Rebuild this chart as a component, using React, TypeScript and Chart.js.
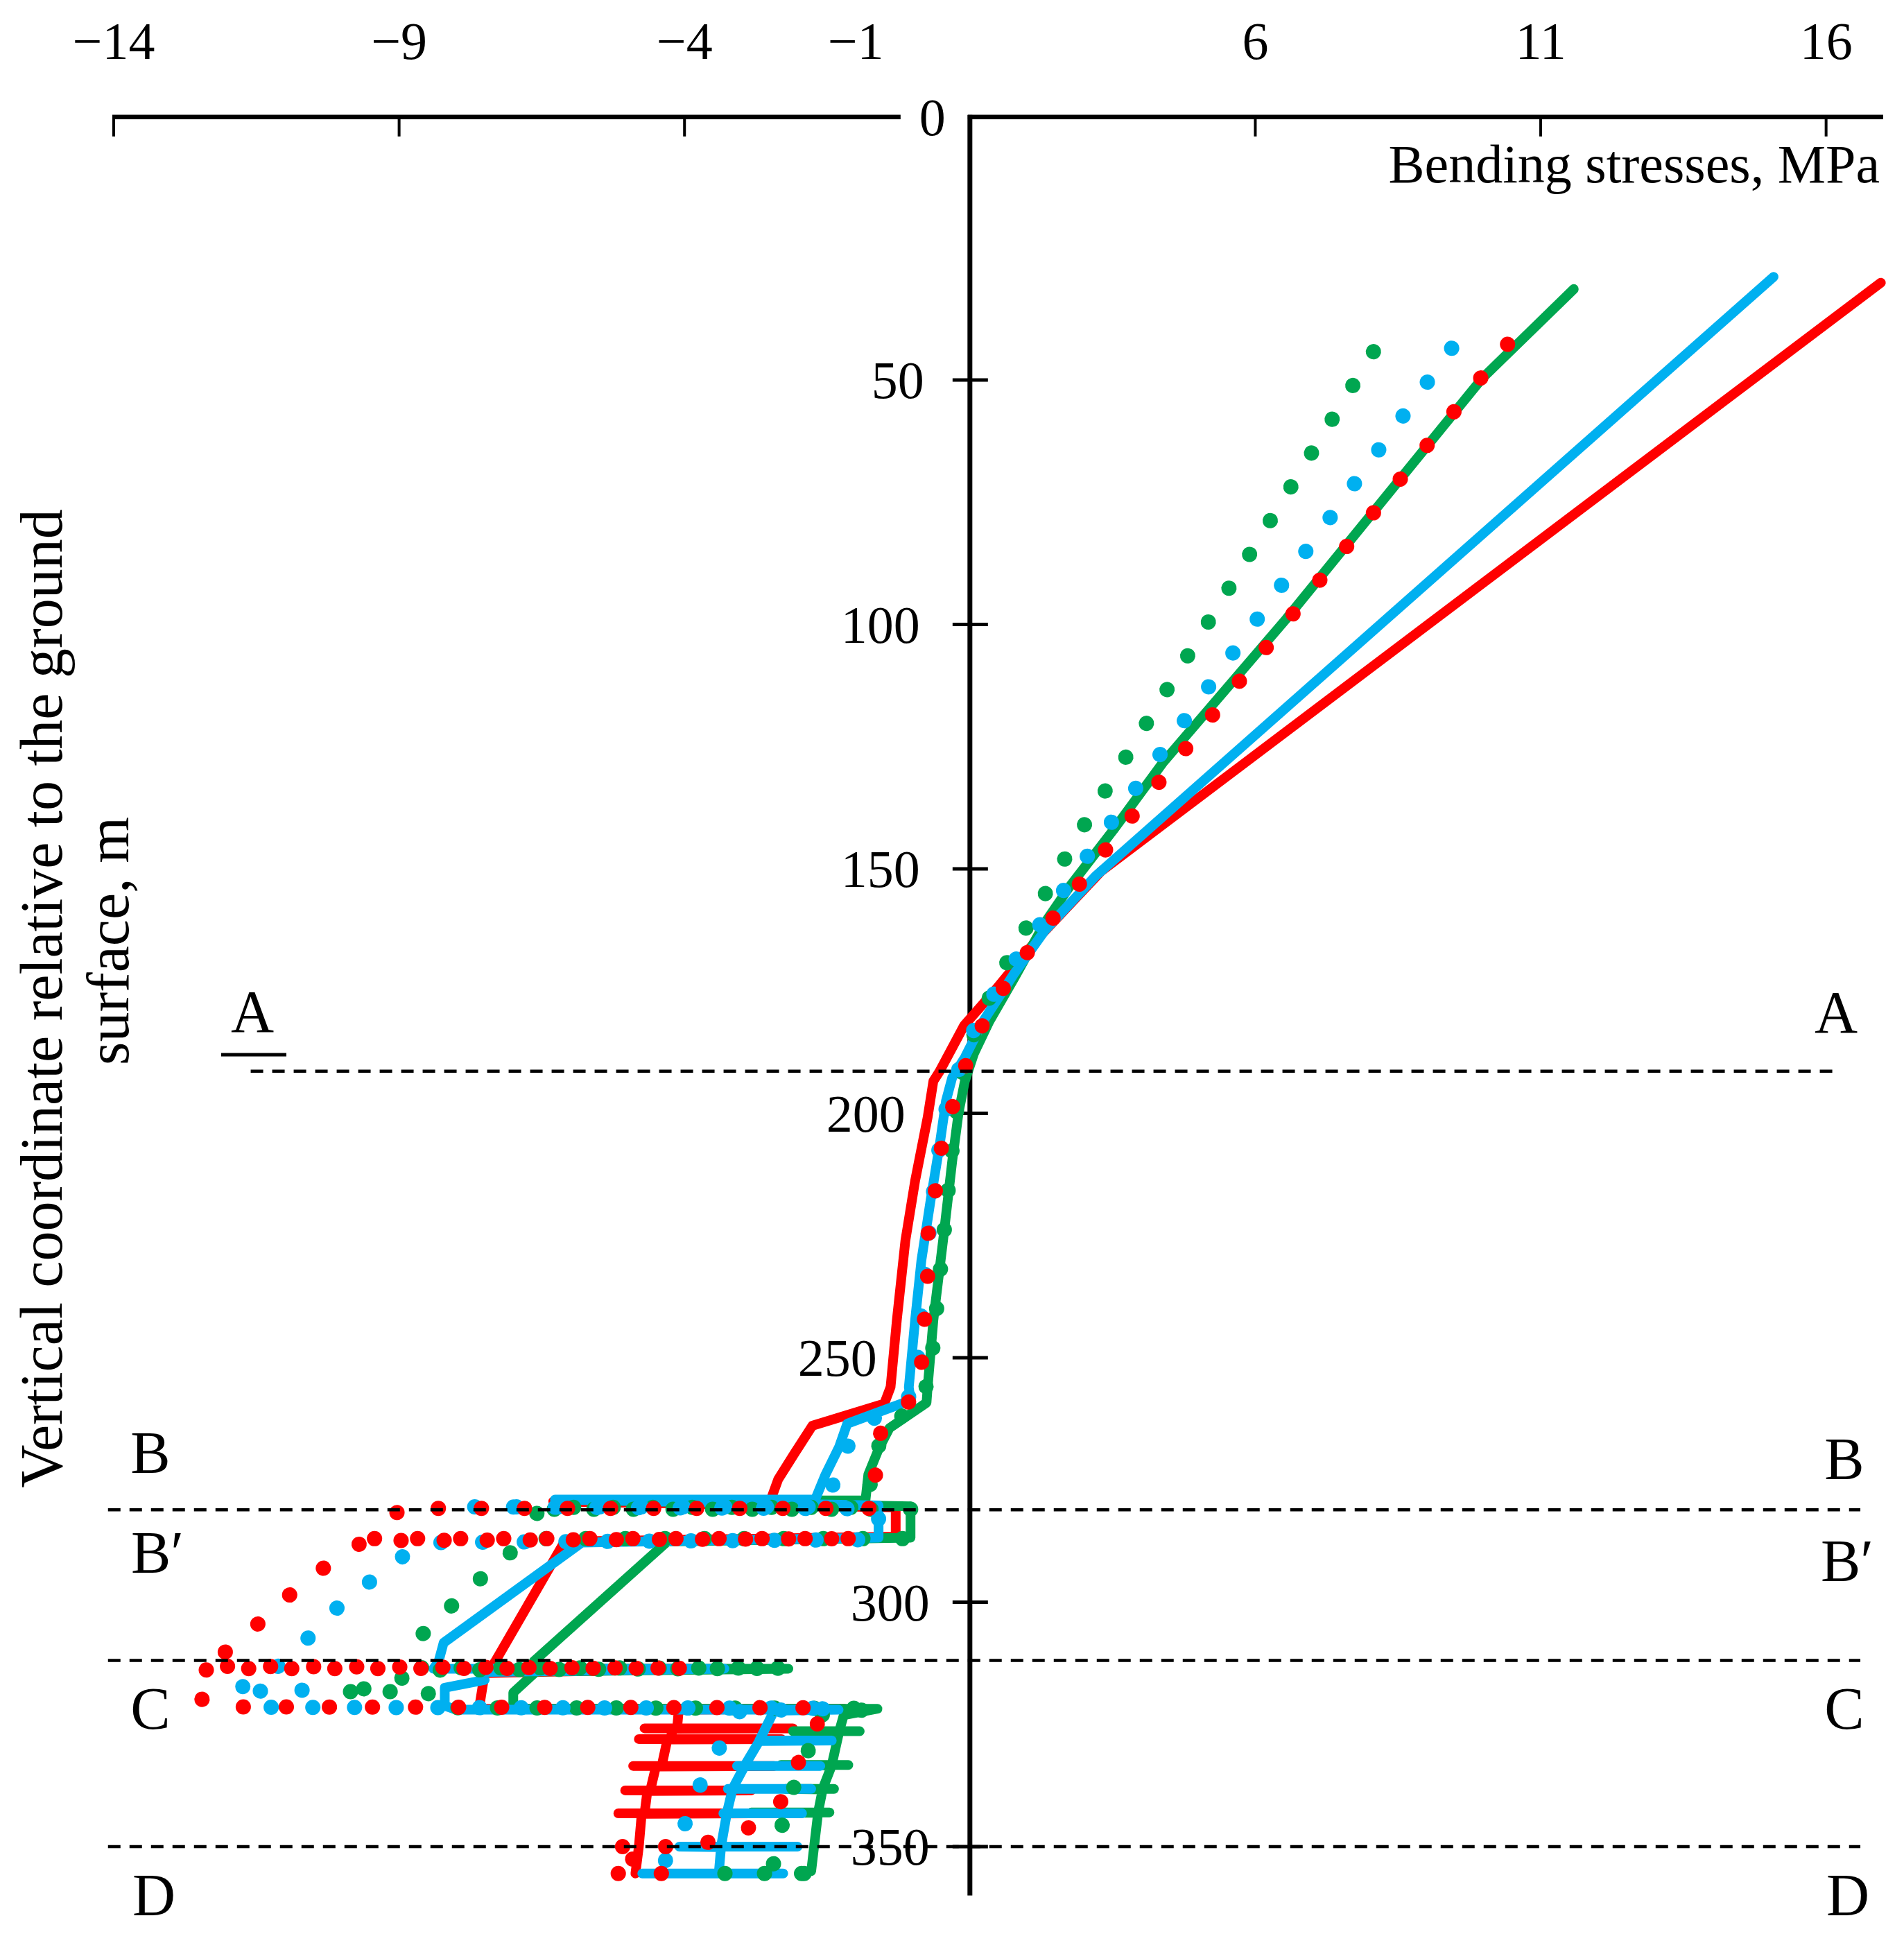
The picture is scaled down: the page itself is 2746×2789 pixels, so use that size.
import React, { useEffect, useRef } from 'react'
import { Chart, registerables } from 'chart.js'

Chart.register(...registerables)

const W = 2746
const H = 2789

// axis layout (stress axis crosses the depth axis at 1 on the label scale)
const AXIS_CROSS = 1
const X_TICK_LABELS = [-14, -9, -4, -1, 6, 11, 16]
const X_TICK_MARKS = [-14, -9, -4, 6, 11, 16]
const Y_TICKS = [50, 100, 150, 200, 250, 300, 350]

// zone boundaries A, B, C, D (depth, m)
const ZONE_A = 191.4
const ZONE_B = 281.1
const ZONE_C = 311.9
const ZONE_D = 350.0

type Pt = [number, number] // [stress, depth]

const redSolid: Pt[] = [
  [16.96, 30.1], [3.3, 150.5], [2.2, 164.1], [1.45, 174.7], [0.9, 182.0], [0.47, 191.4],
  [0.36, 193.4], [0.26, 200.8], [0.04, 213.8], [-0.13, 226.0], [-0.28, 242.3], [-0.39, 256.0],
  [-0.5, 259.4], [-1.76, 263.9], [-2.08, 269.7], [-2.36, 274.9], [-2.5, 279.4],
  [-6.3, 279.4], [-0.3, 280.6], [-0.3, 286.6], [-6.1, 287.6], [-7.3, 311.8],
  [-7.4, 313.6], [-3.9, 313.6], [-7.5, 314.5], [-7.6, 321.8], [-1.2, 321.8],
  [-4.1, 322.0], [-4.13, 325.8], [-4.7, 325.8], [-2.1, 325.8], [-4.2, 325.9],
  [-4.25, 328.0], [-4.8, 328.0], [-2.3, 328.0], [-4.3, 328.1],
  [-4.4, 333.5], [-4.9, 333.5], [-2.43, 333.5], [-4.5, 333.6],
  [-4.6, 338.5], [-5.04, 338.5], [-2.83, 338.5], [-4.65, 338.6],
  [-4.7, 343.2], [-5.16, 343.2], [-2.83, 343.2], [-4.75, 343.3], [-4.8, 350.0], [-4.86, 355.5],
]

const blueSolid: Pt[] = [
  [15.08, 28.9], [3.2, 151.5], [2.32, 162.5], [1.77, 171.5], [1.23, 181.2],
  [0.91, 188.6], [0.69, 192.7], [0.58, 197.5], [0.47, 206.5], [0.31, 217.9], [0.15, 230.1],
  [0.04, 242.3], [-0.07, 256.0], [-0.04, 258.7], [-1.15, 263.5], [-1.29, 268.2], [-1.53, 273.9],
  [-1.71, 279.0], [-6.27, 279.0], [-0.6, 280.2], [-0.6, 286.8], [-5.8, 287.8], [-8.22, 308.3],
  [-8.31, 312.2], [-8.4, 313.6], [-3.3, 313.6], [-7.6, 314.3], [-7.5, 315.9], [-8.2, 317.5],
  [-8.2, 321.2], [-8.0, 322.0], [-1.3, 322.0],
  [-2.43, 322.2], [-2.69, 328.3], [-1.42, 328.3], [-2.69, 328.4],
  [-2.95, 333.5], [-1.62, 333.5], [-3.08, 333.5], [-2.95, 333.6],
  [-3.16, 338.2], [-1.78, 338.2], [-3.24, 338.2], [-3.16, 338.3],
  [-3.26, 343.2], [-1.94, 343.2], [-3.32, 343.2], [-3.26, 343.3],
  [-3.36, 350.0], [-2.02, 350.0], [-4.09, 350.0], [-3.36, 350.1],
  [-3.4, 355.5], [-2.27, 355.5], [-4.74, 355.5],
]

const greenSolid: Pt[] = [
  [11.58, 31.4], [9.98, 49.6], [6.54, 98.9], [4.38, 128.3], [3.51, 142.1], [2.75, 153.6],
  [2.32, 160.9], [1.78, 172.3], [1.34, 181.2], [1.07, 187.8], [0.91, 193.5], [0.8, 200.0],
  [0.69, 209.8], [0.53, 226.0], [0.36, 242.3], [0.26, 256.0], [0.24, 259.2], [-0.41, 264.4],
  [-0.6, 268.7], [-0.78, 273.9], [-0.83, 279.2], [-5.5, 279.2], [-0.04, 280.4], [-0.04, 286.8],
  [-4.3, 287.6], [-6.64, 312.1], [-6.7, 313.6], [-2.18, 313.6], [-6.6, 314.2], [-7.0, 318.5],
  [-7.0, 321.8], [-0.62, 321.8],
  [-1.21, 323.1], [-1.29, 326.4], [-0.93, 326.4], [-2.1, 326.4], [-1.29, 326.5],
  [-1.42, 333.3], [-1.13, 333.3], [-2.31, 333.3], [-1.42, 333.4],
  [-1.58, 338.2], [-1.38, 338.2], [-2.23, 338.2], [-1.58, 338.3],
  [-1.66, 343.0], [-1.46, 343.0], [-2.83, 343.0], [-1.66, 343.1], [-1.78, 355.0],
]

const redDotted: Pt[] = [
  [10.42, 42.7], [3.52, 143.9], [3.08, 150.7], [2.59, 158.0], [2.11, 165.4], [1.67, 172.7],
  [1.23, 181.7], [0.96, 189.0], [0.64, 200.8], [0.47, 208.5], [0.39, 216.3], [0.26, 225.2],
  [0.26, 234.6], [0.2, 242.8], [0.15, 251.7], [0.01, 258.2], [-0.5, 263.3], [-0.69, 269.7],
  [-0.6, 280.8], [-8.96, 280.8], [-9.52, 287.0], [-0.9, 287.0], [-9.6, 287.4],
  [-10.1, 291.1], [-10.66, 295.9], [-11.2, 301.4], [-11.73, 307.3], [-12.36, 313.1],
  [-3.9, 313.5], [-12.36, 313.6], [-12.68, 318.5], [-12.2, 321.4], [-1.5, 321.6],
  [-1.78, 326.9], [-2.3, 340.6], [-2.6, 345.0], [-3.8, 350.0], [-5.34, 350.0],
  [-4.9, 352.5], [-5.38, 355.5], [-3.8, 355.5],
]

const blueDotted: Pt[] = [
  [9.44, 43.5], [3.28, 143.7], [2.86, 150.7], [2.43, 158.0], [1.95, 166.0], [1.5, 174.0],
  [1.1, 182.0], [0.85, 189.5], [0.6, 198.0], [0.45, 208.0], [0.32, 220.0], [0.22, 232.0],
  [0.12, 244.0], [0.05, 256.0], [-0.2, 260.0], [-1.0, 264.0], [-1.2, 270.0], [-1.4, 276.0],
  [-1.5, 280.5], [-7.7, 280.5], [-0.6, 280.9], [-0.6, 287.2], [-8.41, 287.8],
  [-9.01, 291.1], [-9.52, 295.9], [-10.08, 301.1], [-10.59, 307.3], [-11.01, 311.1],
  [-11.2, 314.5], [-11.94, 318.3], [-10.7, 318.0], [-11.3, 321.5], [-1.3, 321.7],
  [-3.03, 322.3], [-3.32, 328.3], [-3.56, 333.5], [-3.76, 338.2], [-3.89, 343.2],
  [-4.21, 350.0], [-4.45, 355.5],
]

const greenDotted: Pt[] = [
  [8.07, 44.2], [2.87, 143.6], [2.53, 150.7], [2.18, 158.0], [1.84, 165.1], [1.5, 172.3],
  [1.2, 180.0], [0.95, 187.5], [0.8, 196.0], [0.7, 206.0], [0.6, 218.0], [0.5, 230.0],
  [0.4, 242.0], [0.3, 254.0], [0.1, 259.5], [-0.5, 264.5], [-0.65, 270.0], [-0.75, 276.0],
  [-0.8, 280.6], [-6.5, 280.6], [-6.7, 283.5], [-6.5, 281.0], [-0.02, 281.0], [-0.02, 287.0],
  [-6.6, 287.0], [-7.1, 290.2], [-7.66, 296.1], [-8.13, 301.3], [-8.62, 306.9],
  [-8.68, 313.4], [-2.2, 313.5], [-8.5, 313.9], [-9.52, 317.6], [-10.08, 318.3], [-8.5, 318.3],
  [-8.4, 321.6], [-0.62, 321.7],
  [-1.62, 323.1], [-1.74, 326.4], [-1.9, 333.3], [-2.1, 338.2], [-2.23, 343.0], [-2.39, 350.0],
  [-2.47, 355.5], [-1.58, 355.5], [-3.44, 355.5],
]

const zoneLines: Pt[][] = [
  [[-11.6, ZONE_A], [16.17, ZONE_A]],
  [[-14.1, ZONE_B], [16.6, ZONE_B]],
  [[-14.1, ZONE_C], [16.6, ZONE_C]],
  [[-14.1, ZONE_D], [16.6, ZONE_D]],
]

const RED = '#FF0000'
const BLUE = '#00B0F0'
const GREEN = '#00A650'
const FONT = '"Liberation Serif", "Times New Roman", serif'

const toXY = (pts: Pt[]) => pts.map(([x, y]) => ({ x, y }))

const solid = (data: Pt[], color: string, order: number) => ({
  data: toXY(data),
  showLine: true,
  borderColor: color,
  borderWidth: 14,
  borderCapStyle: 'round' as const,
  borderJoinStyle: 'round' as const,
  pointRadius: 0,
  order,
})

const dotted = (data: Pt[], color: string, gap: number) => ({
  data: toXY(data),
  showLine: true,
  borderColor: color,
  borderWidth: 22,
  borderDash: [0.1, gap],
  borderCapStyle: 'round' as const,
  borderJoinStyle: 'round' as const,
  pointRadius: 0,
  order: 1,
})

// y label right-edge offsets from the axis (labels were nudged in the original)
const Y_LABEL_GAP: Record<number, number> = { 50: 66, 100: 72, 150: 72, 200: 93, 250: 134, 300: 58, 350: 58 }

const axesPlugin = {
  id: 'shaftAxes',
  beforeDatasetsDraw(chart: any) {
    const { ctx, scales } = chart
    const x = scales.x
    const y = scales.y
    const x0 = x.getPixelForValue(AXIS_CROSS)
    const yTop = y.getPixelForValue(-3.8)
    ctx.save()
    ctx.strokeStyle = '#000'
    ctx.lineCap = 'butt'
    ctx.lineWidth = 6.5
    ctx.beginPath()
    ctx.moveTo(x.getPixelForValue(-14) - 2, yTop)
    ctx.lineTo(x0 - 100, yTop)
    ctx.moveTo(x0 - 3, yTop)
    ctx.lineTo(x.getPixelForValue(17), yTop)
    ctx.stroke()

    ctx.lineWidth = 4
    ctx.beginPath()
    for (const v of X_TICK_MARKS) {
      const px = x.getPixelForValue(v)
      ctx.moveTo(px, yTop)
      ctx.lineTo(px, yTop + 28)
    }
    ctx.stroke()

    ctx.lineWidth = 7
    ctx.beginPath()
    ctx.moveTo(x0, yTop - 3)
    ctx.lineTo(x0, y.getPixelForValue(360))
    ctx.stroke()

    ctx.lineWidth = 5
    ctx.beginPath()
    for (const v of Y_TICKS) {
      const py = y.getPixelForValue(v)
      ctx.moveTo(x0 - 25, py)
      ctx.lineTo(x0 + 26, py)
    }
    ctx.stroke()
    ctx.restore()
  },
  afterDraw(chart: any) {
    const { ctx, scales } = chart
    const x = scales.x
    const y = scales.y
    const x0 = x.getPixelForValue(AXIS_CROSS)
    const yTop = y.getPixelForValue(-3.8)
    ctx.save()
    ctx.fillStyle = '#000'

    ctx.font = `76px ${FONT}`
    ctx.textAlign = 'center'
    ctx.textBaseline = 'alphabetic'
    for (const v of X_TICK_LABELS) {
      ctx.fillText(v < 0 ? `\u2212${-v}` : `${v}`, x.getPixelForValue(v), 85)
    }

    ctx.textAlign = 'right'
    ctx.fillText('0', x0 - 35, yTop + 26)
    for (const v of Y_TICKS) {
      ctx.fillText(`${v}`, x0 - Y_LABEL_GAP[v], y.getPixelForValue(v) + 26)
    }

    ctx.font = `78px ${FONT}`
    ctx.fillText('Bending stresses, MPa', 2711, 263)

    ctx.font = `86px ${FONT}`
    ctx.textAlign = 'center'
    ctx.save()
    ctx.translate(89, 1440)
    ctx.rotate(-Math.PI / 2)
    ctx.fillText('Vertical coordinate relative to the ground', 0, 0)
    ctx.restore()
    ctx.save()
    ctx.translate(185, 1357)
    ctx.rotate(-Math.PI / 2)
    ctx.fillText('surface, m', 0, 0)
    ctx.restore()

    ctx.font = `86px ${FONT}`
    ctx.textAlign = 'center'
    ctx.fillText('A', 364, 1488)
    ctx.fillText('A', 2648, 1489)
    ctx.fillText('B', 217, 2124)
    ctx.fillText('B', 2660, 2133)
    ctx.fillText('C', 217, 2493)
    ctx.fillText('C', 2660, 2493)
    ctx.fillText('D', 222, 2762)
    ctx.fillText('D', 2665, 2762)
    ctx.textAlign = 'left'
    ctx.fillText('B\u2032', 189, 2268)
    ctx.fillText('B\u2032', 2626, 2280)

    ctx.strokeStyle = '#000'
    ctx.lineWidth = 5
    ctx.beginPath()
    ctx.moveTo(319, 1521)
    ctx.lineTo(413, 1521)
    ctx.stroke()
    ctx.restore()
  },
}

export default function App() {
  const canvasRef = useRef<HTMLCanvasElement>(null)

  useEffect(() => {
    if (!canvasRef.current) return
    document.body.style.margin = '0'
    const chart = new Chart(canvasRef.current, {
      type: 'scatter',
      data: {
        datasets: [
          ...zoneLines.map((line) => ({
            data: toXY(line),
            showLine: true,
            borderColor: '#000',
            borderWidth: 4.5,
            borderDash: [18, 13],
            pointRadius: 0,
            order: 0,
          })),
          dotted(redDotted, RED, 62),
          dotted(blueDotted, BLUE, 60),
          dotted(greenDotted, GREEN, 57),
          solid(blueSolid, BLUE, 2),
          solid(greenSolid, GREEN, 3),
          solid(redSolid, RED, 4),
        ],
      },
      options: {
        responsive: false,
        devicePixelRatio: 1,
        animation: false,
        layout: { padding: { left: 139.3, right: 21.8, top: 167.3, bottom: 41.4 } },
        plugins: { legend: { display: false }, tooltip: { enabled: false } },
        scales: {
          x: { type: 'linear', min: -14.3, max: 17.1, display: false },
          y: { type: 'linear', min: -4, max: 362, reverse: true, display: false },
        },
      },
      plugins: [axesPlugin],
    })
    return () => chart.destroy()
  }, [])

  return (
    <div style={{ width: W, height: H, background: '#fff' }}>
      <canvas ref={canvasRef} width={W} height={H} style={{ display: 'block' }} />
    </div>
  )
}
